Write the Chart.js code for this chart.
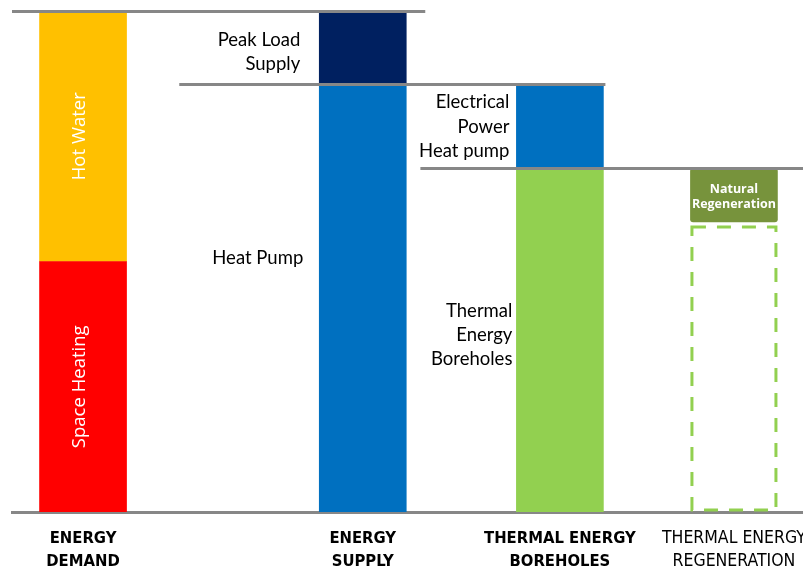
<!DOCTYPE html>
<html>
<head>
<meta charset="utf-8">
<script src="https://cdn.jsdelivr.net/npm/chart.js@4/dist/chart.umd.min.js"></script>
<style>
  html, body { margin: 0; padding: 0; overflow: hidden; background: #ffffff; }
  canvas { display: block; }
</style>
</head>
<body>
<canvas id="energyChart" width="900" height="567"></canvas>
<script>
// Columns of the energy balance, left to right
const categoryLabels = [
  ['ENERGY', 'DEMAND'],
  ['ENERGY', 'SUPPLY'],
  ['THERMAL ENERGY', 'BOREHOLES'],
  ['THERMAL ENERGY', 'REGENERATION']
];
const categoryPos = [0.8, 3.95, 6.17, 8.13];

// Segment values of each column (share of total demand, bottom to top)
const demandNames = ['Space Heating', 'Hot Water'];
const demandValues = [50, 50];

const supplyNames = ['Heat Pump', 'Peak Load Supply'];
const supplyValues = [85.4, 14.6];

const boreholeNames = ['Thermal Energy Boreholes', 'Electrical Power Heat pump'];
const boreholeValues = [68.6, 16.8];

const regenNames = ['Required Regeneration', 'Natural Regeneration'];
const regenValues = [57.9, 10.7];

const columns = [
  { names: demandNames, values: demandValues, colors: ['#FF0000', '#FFC000'] },
  { names: supplyNames, values: supplyValues, colors: ['#0070C0', '#002060'] },
  { names: boreholeNames, values: boreholeValues, colors: ['#92D050', '#0070C0'] },
  { names: regenNames, values: regenValues, colors: ['rgba(0,0,0,0)', '#77933C'] }
];

// Each segment is a floating bar [start, end] stacked on the one below it
const datasets = [];
columns.forEach((col, ci) => {
  let base = 0;
  col.values.forEach((v, si) => {
    datasets.push({
      label: col.names[si],
      data: [{ x: categoryPos[ci], y: [base, base + v] }],
      backgroundColor: col.colors[si],
      borderWidth: 0,
      borderRadius: (ci === 3 && si === 1) ? 3 : 0,
      borderSkipped: false,
      grouped: false,
      barThickness: 87,
      dashedOutline: ci === 3 && si === 0
    });
    base += v;
  });
});

const sum = a => a.reduce((s, v) => s + v, 0);

// Grey level lines carried from one column to the next
const connectorPlugin = {
  id: 'connectors',
  afterDatasetsDraw(chart) {
    const { ctx, scales: { x, y }, chartArea } = chart;
    const half = 43.5;
    const cx = i => x.getPixelForValue(categoryPos[i]);
    const lines = [
      { v: sum(demandValues), x0: chartArea.left, x1: cx(1) + half + 19 },
      { v: supplyValues[0], x0: cx(1) - half - 140, x1: cx(2) + half + 2 },
      { v: boreholeValues[0], x0: cx(2) - half - 96, x1: chartArea.right }
    ];
    ctx.save();
    ctx.strokeStyle = '#878787';
    ctx.lineWidth = 3;
    lines.forEach(l => {
      const py = Math.round(y.getPixelForValue(l.v)) + 0.5;
      ctx.beginPath();
      ctx.moveTo(l.x0, py);
      ctx.lineTo(l.x1, py);
      ctx.stroke();
    });

    // dashed outline for the regeneration still to be supplied
    chart.data.datasets.forEach((ds, i) => {
      if (!ds.dashedOutline) return;
      const el = chart.getDatasetMeta(i).data[0];
      const left = el.x - el.width / 2 + 1.5;
      const right = el.x + el.width / 2 - 1.5;
      const top = el.y + 5;
      const bottom = el.base - 2;
      ctx.strokeStyle = '#92D050';
      ctx.lineWidth = 3;
      ctx.setLineDash([14, 11]);
      ctx.beginPath();
      ctx.rect(left, top, right - left, bottom - top);
      ctx.stroke();
      ctx.setLineDash([]);
    });
    ctx.restore();
  }
};

// Segment captions
const labelPlugin = {
  id: 'segmentLabels',
  afterDraw(chart) {
    const { ctx, scales: { x, y } } = chart;
    const cx = i => x.getPixelForValue(categoryPos[i]);
    const half = 43.5;
    ctx.save();

    // rotated captions inside the demand bar
    ctx.fillStyle = '#ffffff';
    ctx.font = '18.5px "Open Sans", sans-serif';
    ctx.textAlign = 'center';
    ctx.textBaseline = 'middle';
    let base = 0;
    demandValues.forEach((v, i) => {
      const py = y.getPixelForValue(base + v / 2);
      ctx.save();
      ctx.translate(cx(0) - 3, py);
      ctx.rotate(-Math.PI / 2);
      ctx.fillText(demandNames[i], 0, 0);
      ctx.restore();
      base += v;
    });

    // captions to the left of the supply and borehole bars
    const side = [
      { lines: ['Peak Load', 'Supply'], col: 1, v: 91.8, dx: -19, lh: 24 },
      { lines: ['Heat Pump'], col: 1, v: 50.7, dx: -16, lh: 24 },
      { lines: ['Electrical', 'Power', 'Heat pump'], col: 2, v: 76.9, dx: -7, lh: 24.5 },
      { lines: ['Thermal', 'Energy', 'Boreholes'], col: 2, v: 35.3, dx: -4, lh: 24 }
    ];
    ctx.fillStyle = '#000000';
    ctx.font = '18.5px Lato, sans-serif';
    ctx.textAlign = 'right';
    side.forEach(s => {
      const xr = cx(s.col) - half + s.dx;
      const yc = y.getPixelForValue(s.v);
      const y0 = yc - (s.lines.length - 1) * s.lh / 2;
      s.lines.forEach((t, k) => ctx.fillText(t, xr, y0 + k * s.lh));
    });

    // caption inside the natural regeneration bar
    ctx.fillStyle = '#ffffff';
    ctx.font = 'bold 12.5px "Open Sans", sans-serif';
    ctx.textAlign = 'center';
    const nv = regenValues[0] + regenValues[1] / 2;
    const ny = y.getPixelForValue(nv);
    ctx.fillText('Natural', cx(3), ny - 6);
    ctx.fillText('Regeneration', cx(3), ny + 9);

    ctx.restore();
  }
};

new Chart(document.getElementById('energyChart'), {
  type: 'bar',
  data: { datasets },
  options: {
    responsive: false,
    animation: false,
    devicePixelRatio: 1,
    layout: { padding: { left: 12, top: 11, right: 0, bottom: 0 } },
    plugins: { legend: { display: false }, tooltip: { enabled: false } },
    scales: {
      x: {
        type: 'linear',
        min: 0,
        max: 10,
        offset: false,
        grid: { display: false, drawTicks: false },
        border: { display: true, color: '#878787', width: 3 },
        afterBuildTicks: axis => { axis.ticks = categoryPos.map(v => ({ value: v })); },
        afterFit: scale => { scale.height = 55; },
        ticks: {
          autoSkip: false,
          maxRotation: 0,
          padding: 15,
          color: '#000000',
          font: ctx => ({
            family: '"DejaVu Sans Condensed", "Liberation Sans Narrow", sans-serif',
            size: ctx.index === 3 ? 17.5 : 16.5,
            weight: ctx.index === 3 ? 'normal' : 'bold',
            lineHeight: ctx.index === 3 ? 1.32 : 1.4
          }),
          callback: (value, index) => categoryLabels[index]
        }
      },
      y: {
        display: false,
        min: 0,
        max: 100
      }
    }
  },
  plugins: [connectorPlugin, labelPlugin]
});
</script>
</body>
</html>
